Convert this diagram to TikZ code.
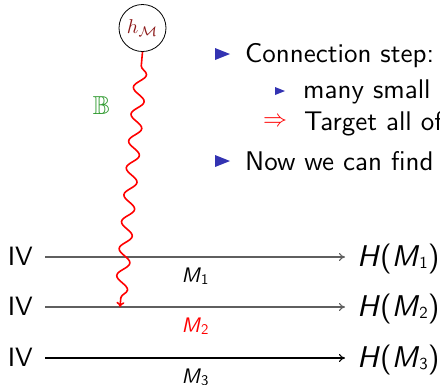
\documentclass[tikz,border=0pt]{standalone}
\usepackage{amssymb}
\usepackage{graphicx}
\usepackage{fontspec}
\setsansfont{lmsans10}[Extension=.otf, UprightFont=*-regular, SlantedFont=*-oblique,
  ItalicFont=*-oblique, BoldFont=*-bold]
\usetikzlibrary{decorations.pathmorphing,arrows.meta}

\definecolor{beamerblue}{RGB}{51,51,178}
\definecolor{hred}{RGB}{140,25,25}
\definecolor{bgreen}{RGB}{50,155,50}
\definecolor{linegray}{RGB}{95,95,95}

% slanted M with a small upright index: #1 index scale, #2 drop, #3 index
\newcommand{\Msub}[3]{\textsl{M}\raisebox{-#2}{\scalebox{#1}{#3}}}
\newcommand{\hterm}[1]{\textsl{H}(\Msub{0.56}{0.07em}{#1})}
\newcommand{\mterm}[1]{\Msub{0.7}{0.14em}{#1}}

\tikzset{
  bigbullet/.pic={\fill[beamerblue] (-7.5,-6) -- (7.5,0) -- (-7.5,6) -- cycle;},
  smallbullet/.pic={\fill[beamerblue] (-5,-4) -- (5,0) -- (-5,4) -- cycle;},
  bodytext/.style={anchor=base west, inner sep=0pt, font=\fontsize{27}{32}\selectfont\sffamily},
  ivlabel/.style={anchor=base east, inner sep=0pt, font=\fontsize{26.5}{30}\selectfont\sffamily},
  hlabel/.style={anchor=base west, inner sep=0pt, font=\fontsize{30}{34}\selectfont\sffamily},
  mlabel/.style={anchor=base, inner sep=0pt, yshift=-25pt, font=\fontsize{21}{24}\selectfont\sffamily, text=black},
  rowarrow/.style={-{To[length=6pt,width=8pt]}, line width=1.1pt},
}

\begin{document}
\begin{tikzpicture}[x=1pt,y=-1pt]
\useasboundingbox (0,0) rectangle (440,384);
\clip (0,0) rectangle (440,384);

% bullet list
\pic at (222.5,54) {bigbullet};
\node[bodytext] (c1) at (245,62) {Connection step:};
\pic at (280,91) {smallbullet};
\node[bodytext] (c2) at (303,98) {many small};
\node[anchor=center, inner sep=0pt, text=red] (imp) at (275,122) {\scalebox{2.4}{$\Rightarrow$}};
\node[bodytext] (c3) at (304,130) {Target all of};
\pic at (222.5,161) {bigbullet};
\node[bodytext] (c4) at (245,170) {Now we can find};

% the three rows
\foreach \i/\y in {1/257,2/307,3/358}{
  \node[ivlabel] (iv\i) at (33,\y+8.5) {IV};
  \node[hlabel] (h\i) at (357,\y+9) {\hterm{\i}};
  \coordinate (s\i) at (45,\y);
  \coordinate (e\i) at (345,\y);
}
\draw[rowarrow, linegray] (s1) -- node[mlabel] (m1) {\mterm{1}} (e1);
\draw[rowarrow, linegray] (s2) -- node[mlabel, text=red] (m2) {\mterm{2}} (e2);
\draw[rowarrow, black] (s3) -- node[mlabel] (m3) {\mterm{3}} (e3);

% source circle and the wavy connector
\node[circle, draw=black, fill=white, line width=0.8pt, minimum size=47pt, inner sep=0pt,
      text=hred] (hm) at (142.5,28) {\scalebox{2}{$h_{\mathcal{M}}$}};
\coordinate (hit) at (120,307);
\draw[red, line width=1.6pt, -{To[length=5pt,width=8pt]},
      decorate, decoration={snake, segment length=27pt, amplitude=6pt, pre length=14pt, post length=7pt}]
      (hm.south) -- (hit);
\node[text=bgreen, inner sep=0pt] (bb) at (101.5,106) {\scalebox{2.6}{$\mathbb{B}$}};
\end{tikzpicture}
\end{document}
